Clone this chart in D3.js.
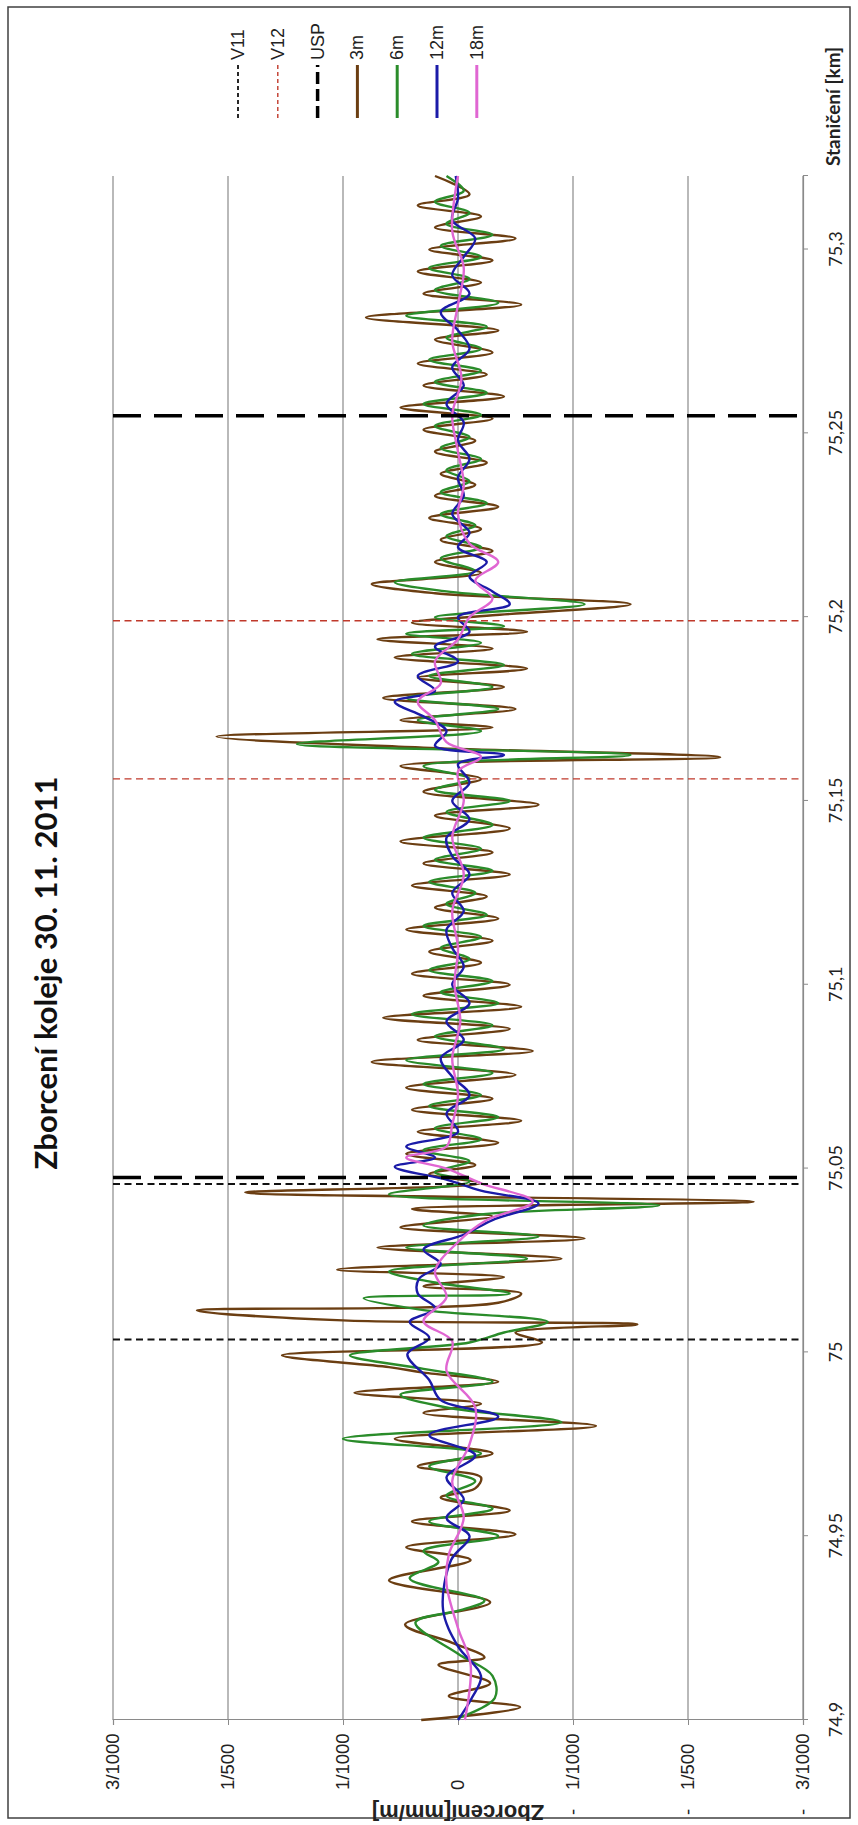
<!DOCTYPE html>
<html><head><meta charset="utf-8">
<script src="https://cdn.jsdelivr.net/npm/d3@7"></script>
<style>body{margin:0;background:#fff}svg{display:block}</style>
</head><body>
<svg id="c" width="858" height="1825"></svg>
<script>
// ---------- data ----------
const xTicks = [74.9, 74.95, 75, 75.05, 75.1, 75.15, 75.2, 75.25, 75.3];
const xTickLabels = ["74,9","74,95","75","75,05","75,1","75,15","75,2","75,25","75,3"];
const yTicks = [3, 2, 1, 0, -1, -2, -3];
const yTickSigns = ["", "", "", "", "-", "-", "-"];
const yTickLabels = ["3/1000","1/500","1/1000","0","1/1000","1/500","3/1000"];
const v11 = [75.0035, 75.0458];
const v12 = [75.156, 75.199];
const usp = [75.0476, 75.2548];
const legendNames = ["V11","V12","USP","3m","6m","12m","18m"];

const km3 = [74.900,74.9035,74.9065,74.910,74.915,74.917,74.921,74.926,74.932,74.938,74.9435,74.947,74.9505,74.954,74.957,74.9605,74.963,74.966,74.969,74.9725,74.9765,74.980,74.9835,74.986,74.989,74.992,74.9945,74.996,74.9992,75.0027,75.0054,75.0076,75.0087,75.0114,75.0135,75.016,75.018,75.0205,75.0225,75.0255,75.0285,75.031,75.034,75.037,75.039,75.041,75.0435,75.046,75.0485,75.051,75.054,75.057,75.060,75.063,75.066,75.069,75.072,75.0755,75.079,75.082,75.085,75.088,75.091,75.094,75.097,75.100,75.103,75.106,75.109,75.112,75.115,75.118,75.121,75.124,75.127,75.130,75.133,75.136,75.139,75.1425,75.146,75.149,75.1525,75.156,75.1595,75.1619,75.1645,75.1675,75.1700,75.172,75.175,75.178,75.181,75.1835,75.186,75.189,75.1915,75.194,75.196,75.1985,75.2005,75.2035,75.2065,75.209,75.212,75.215,75.218,75.221,75.224,75.227,75.230,75.233,75.236,75.239,75.242,75.245,75.248,75.251,75.254,75.257,75.260,75.263,75.266,75.269,75.272,75.2755,75.278,75.2815,75.285,75.288,75.291,75.294,75.297,75.300,75.303,75.306,75.309,75.312,75.315,75.32];
const val3 = [0.32,-0.54,0.08,-0.28,0.17,-0.23,0.05,0.46,-0.28,0.60,-0.11,0.45,-0.50,0.40,-0.45,0.15,-0.15,-0.2,0.35,-0.3,0.55,-1.20,0.30,-0.2,0.9,-0.35,0.3,0.6,1.53,-0.73,-0.50,-1.56,1.00,2.27,-0.35,-0.55,0.3,-0.4,1.05,-0.9,0.7,-1.1,0.5,-0.3,0.4,-2.57,1.85,-0.2,0.25,-0.15,0.45,-0.35,0.35,-0.55,0.4,-0.3,0.45,-0.5,0.75,-0.65,0.35,-0.45,0.65,-0.55,0.3,-0.45,0.4,-0.2,0.25,-0.3,0.45,-0.35,0.2,-0.25,0.4,-0.45,0.3,-0.3,0.5,-0.45,0.2,-0.7,0.3,-0.2,0.5,-2.28,0.3,2.1,-0.3,0.5,-0.5,0.65,-0.4,0.35,-0.6,0.55,-0.3,0.7,-0.6,0.4,-0.3,-1.5,0.2,0.75,-0.2,0.2,-0.3,0.15,-0.2,0.25,-0.35,0.2,-0.15,0.15,-0.25,0.2,-0.15,0.3,-0.3,0.5,-0.4,0.3,-0.25,0.35,-0.3,0.2,-0.35,0.8,-0.55,0.3,-0.2,0.35,-0.3,0.25,-0.5,0.2,-0.2,0.35,-0.1,0.2];

const km6 = [74.9005,74.906,74.912,74.918,74.9265,74.930,74.9325,74.9385,74.943,74.946,74.950,74.954,74.9575,74.961,74.965,74.969,74.9725,74.9765,74.981,74.985,74.9885,74.992,74.9955,74.9992,75.0027,75.0054,75.0083,75.0115,75.0147,75.016,75.019,75.022,75.0255,75.0285,75.0315,75.0345,75.0375,75.040,75.043,75.0465,75.049,75.052,75.055,75.058,75.061,75.064,75.067,75.070,75.073,75.076,75.0795,75.0825,75.086,75.089,75.092,75.095,75.098,75.101,75.104,75.107,75.110,75.113,75.116,75.119,75.122,75.125,75.128,75.131,75.134,75.137,75.140,75.1435,75.147,75.150,75.153,75.156,75.1595,75.1625,75.1655,75.169,75.172,75.175,75.178,75.181,75.184,75.187,75.190,75.193,75.1955,75.1975,75.200,75.2035,75.207,75.2095,75.2125,75.216,75.219,75.222,75.225,75.228,75.231,75.234,75.237,75.240,75.243,75.246,75.249,75.252,75.255,75.258,75.261,75.264,75.267,75.270,75.273,75.276,75.279,75.282,75.2855,75.289,75.292,75.295,75.298,75.301,75.304,75.307,75.310,75.313,75.316,75.32];
const val6 = [0.0,-0.32,-0.30,0.0,0.37,-0.04,-0.23,0.42,0.17,0.3,-0.35,0.25,-0.3,0.1,-0.15,0.25,-0.2,1.0,-0.9,0.1,0.5,-0.3,0.3,0.94,-0.1,-0.4,-0.78,0.3,0.82,-0.45,0.2,0.6,-0.6,0.45,-0.7,0.3,-0.2,-1.75,0.6,-0.1,0.2,-0.1,0.3,-0.2,0.2,-0.35,0.25,-0.2,0.3,-0.3,0.45,-0.4,0.2,-0.3,0.4,-0.35,0.15,-0.3,0.25,-0.1,0.15,-0.2,0.3,-0.25,0.1,-0.15,0.25,-0.3,0.2,-0.2,0.3,-0.3,0.1,-0.45,0.2,-0.1,0.3,-1.5,1.4,-0.2,0.35,-0.35,0.45,-0.3,0.25,-0.4,0.4,-0.2,0.45,-0.4,0.2,-1.1,0.1,0.55,-0.15,0.15,-0.2,0.1,-0.15,0.15,-0.25,0.15,-0.1,0.1,-0.2,0.15,-0.1,0.2,-0.2,0.3,-0.25,0.2,-0.2,0.25,-0.2,0.1,-0.25,0.45,-0.35,0.2,-0.1,0.25,-0.2,0.15,-0.3,0.1,-0.1,0.2,-0.05,0.1];

const km12 = [74.900,74.906,74.912,74.920,74.930,74.9435,74.950,74.955,74.960,74.966,74.972,74.9775,74.9825,74.987,74.9925,74.9995,75.004,75.0083,75.012,75.016,75.020,75.024,75.028,75.032,75.036,75.0405,75.044,75.047,75.0505,75.053,75.056,75.060,75.065,75.070,75.075,75.080,75.085,75.090,75.095,75.100,75.105,75.110,75.115,75.120,75.125,75.130,75.135,75.140,75.145,75.150,75.155,75.160,75.1625,75.165,75.169,75.173,75.177,75.180,75.184,75.188,75.192,75.196,75.200,75.2035,75.207,75.211,75.215,75.219,75.223,75.228,75.233,75.238,75.243,75.248,75.253,75.258,75.263,75.268,75.273,75.278,75.283,75.288,75.293,75.298,75.303,75.308,75.314,75.32];
const val12 = [0.0,-0.12,-0.20,0.0,0.13,0.06,-0.1,0.1,-0.05,0.1,-0.15,0.25,-0.35,0.15,0.25,0.44,0.25,0.42,0.2,0.35,0.34,0.15,0.3,-0.05,-0.3,-0.7,-0.2,0.1,0.55,0.2,0.45,0.0,0.1,-0.1,0.05,0.15,-0.05,0.1,-0.1,0.05,-0.05,0.05,0.1,-0.05,0.05,-0.1,0.05,0.1,-0.1,0.05,-0.1,0.0,-0.4,0.2,0.1,0.3,0.55,0.2,0.35,0.0,0.2,-0.1,0.0,-0.45,-0.3,-0.1,-0.25,0.0,-0.1,0.05,-0.05,0.0,-0.1,0.0,-0.05,0.1,-0.05,0.05,-0.1,0.0,0.15,-0.1,0.05,-0.05,-0.15,0.05,0.0,0.02];

const km18 = [74.900,74.915,74.925,74.937,74.945,74.955,74.965,74.975,74.985,74.995,75.003,75.0085,75.015,75.022,75.030,75.036,75.041,75.046,75.050,75.053,75.056,75.062,75.070,75.080,75.090,75.100,75.110,75.120,75.130,75.140,75.150,75.158,75.162,75.166,75.172,75.177,75.182,75.188,75.194,75.200,75.205,75.210,75.215,75.220,75.228,75.236,75.245,75.255,75.265,75.275,75.285,75.295,75.305,75.32];
const val18 = [-0.06,-0.11,0.0,0.1,0.08,-0.05,0.05,-0.1,-0.15,0.1,0.05,0.3,0.1,0.2,0.0,-0.25,-0.65,-0.2,0.1,0.45,0.1,0.05,0.0,0.05,-0.02,0.03,0.0,0.05,-0.05,0.05,-0.05,0.0,-0.2,0.1,0.2,0.35,0.15,0.2,0.0,-0.1,-0.3,-0.15,-0.35,-0.1,0.0,-0.05,0.0,0.05,-0.03,0.05,0.0,-0.05,0.05,0.0];

// ---------- drawing ----------
const svg = d3.select("#c");
svg.append("rect").attr("x",8).attr("y",7).attr("width",842).attr("height",1811)
  .attr("fill","none").attr("stroke","#404040").attr("stroke-width",1.5);

// chart built in landscape orientation and rotated
const g = svg.append("g").attr("transform","translate(0,1825) rotate(-90)");
const x = d3.scaleLinear().domain([74.9, 75.32]).range([105, 1649]);
const y = d3.scaleLinear().domain([3, -3]).range([113, 803]);
const gridC = "#8a8a8a";

g.append("g").selectAll("line").data(yTicks).join("line")
  .attr("x1", x(74.9)).attr("x2", x(75.32))
  .attr("y1", d=>y(d)).attr("y2", d=>y(d))
  .attr("stroke", gridC).attr("stroke-width",1.2);

const ya = g.append("g").attr("transform",`translate(${x(74.9)},0)`)
  .call(d3.axisLeft(y).tickValues(yTicks).tickSize(5).tickFormat(""));
ya.select(".domain").attr("stroke",gridC).attr("stroke-width",1.2);
ya.selectAll(".tick line").attr("stroke",gridC);
const yl = g.append("g").selectAll("text").data(yTicks).join("text")
  .attr("y", d=>y(d)+6)
  .attr("font-family","'Liberation Sans', Arial, sans-serif").attr("font-size",18.5).attr("fill","#222");
yl.append("tspan").attr("x",10).text((d,i)=>yTickSigns[i]);
yl.append("tspan").attr("x",35).text((d,i)=>yTickLabels[i]);

g.append("text").attr("transform",`translate(20,${y(0)}) rotate(-90)`)
  .attr("text-anchor","middle")
  .attr("font-family","'Liberation Sans', Arial, sans-serif").attr("font-weight","bold")
  .attr("font-size",22).attr("fill","#222").text("Zborcení[mm/m]");

const xa = g.append("g").attr("transform",`translate(0,${y(-3)})`)
  .call(d3.axisBottom(x).tickValues(xTicks).tickSize(5).tickPadding(21)
    .tickFormat((d,i)=>xTickLabels[i]));
xa.select(".domain").attr("stroke",gridC).attr("stroke-width",1.2);
xa.selectAll(".tick line").attr("stroke",gridC);
xa.selectAll(".tick text").attr("font-family","Lato, 'Open Sans', sans-serif")
  .attr("font-size",18).attr("fill","#222");

g.append("text").attr("x",1778).attr("y",y(-3)+37).attr("text-anchor","end")
  .attr("font-family","Lato, 'Open Sans', sans-serif").attr("font-weight","bold")
  .attr("font-size",19).attr("fill","#222").text("Staničení [km]");

g.append("text").attr("x",852).attr("y",57).attr("text-anchor","middle")
  .attr("font-family","Lato, 'Open Sans', sans-serif").attr("font-weight","bold")
  .attr("font-size",31).attr("fill","#111").text("Zborcení koleje 30. 11. 2011");

const series = [
  {name:"3m", km:km3, v:val3, color:"#6b3e12"},
  {name:"6m", km:km6, v:val6, color:"#2a8c2a"},
  {name:"12m", km:km12, v:val12, color:"#1b1ba8"},
  {name:"18m", km:km18, v:val18, color:"#e066d2"}
];
const line = d3.line().x(d=>x(d[0])).y(d=>y(d[1])).curve(d3.curveCatmullRom.alpha(0.5));
series.forEach(s=>{
  g.append("path").datum(s.km.map((k,i)=>[k,s.v[i]]))
    .attr("d",line).attr("fill","none").attr("stroke",s.color)
    .attr("stroke-width",2.4).attr("stroke-linejoin","round");
});

const refStyles = {
  V11:{c:"#111", w:1.8, dash:"7,4.5"},
  V12:{c:"#c0392b", w:1.4, dash:"7,4.5"},
  USP:{c:"#000", w:3.5, dash:"28,13"}
};
const refs = [["V11",v11],["V12",v12],["USP",usp]];
refs.forEach(([n,arr])=>{
  const st = refStyles[n];
  g.append("g").selectAll("line").data(arr).join("line")
    .attr("x1",d=>x(d)).attr("x2",d=>x(d))
    .attr("y1",y(3)).attr("y2",y(-3))
    .attr("stroke",st.c).attr("stroke-width",st.w).attr("stroke-dasharray",st.dash);
});

const legStyle = {
  V11:{c:"#111", w:1.8, dash:"4,3"},
  V12:{c:"#c0392b", w:1.4, dash:"4,3"},
  USP:{c:"#000", w:3.5, dash:"12,5"},
  "3m":{c:"#6b3e12", w:3, dash:null},
  "6m":{c:"#2a8c2a", w:3, dash:null},
  "12m":{c:"#1b1ba8", w:3, dash:null},
  "18m":{c:"#e066d2", w:3, dash:null}
};
const leg = g.append("g").selectAll("g").data(legendNames).join("g")
  .attr("transform",(d,i)=>`translate(0,${238+39.8*i})`);
leg.append("line").attr("x1",1707).attr("x2",1760).attr("y1",0).attr("y2",0)
  .attr("stroke",d=>legStyle[d].c).attr("stroke-width",d=>legStyle[d].w)
  .attr("stroke-dasharray",d=>legStyle[d].dash);
leg.append("text").attr("x",1765).attr("y",6)
  .attr("font-family","'Liberation Sans', Arial, sans-serif").attr("font-size",18).attr("fill","#222")
  .text(d=>d);
</script>
</body></html>
